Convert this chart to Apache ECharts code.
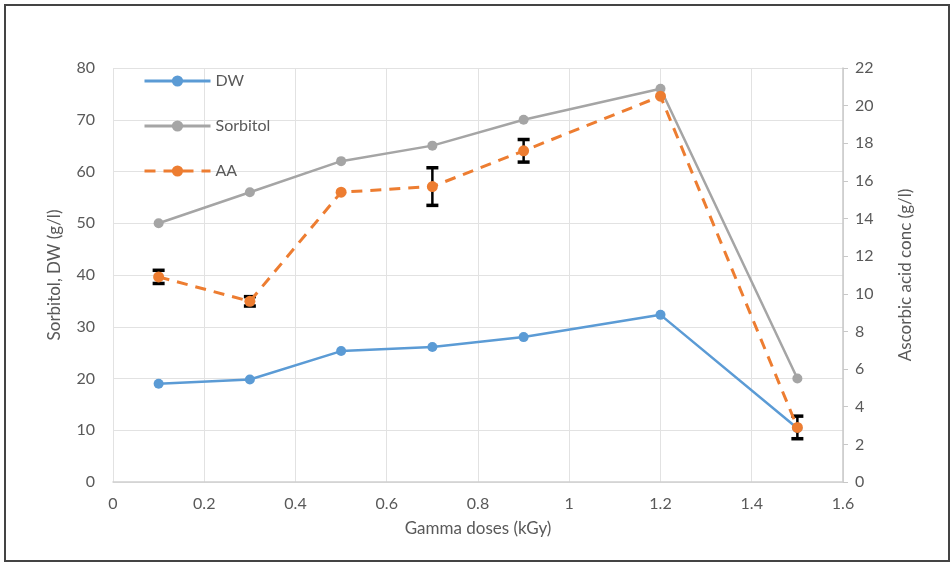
<!DOCTYPE html>
<html><head><meta charset="utf-8">
<script src="https://cdn.jsdelivr.net/npm/echarts@6/dist/echarts.min.js"></script>
<style>html,body{margin:0;padding:0;background:#fff}#c{width:952px;height:564px}</style>
</head><body><div id="c"></div>
<script>
var doses = [0.1, 0.3, 0.5, 0.7, 0.9, 1.2, 1.5];
var dw = [19, 19.8, 25.3, 26.1, 28, 32.3, 10.4];
var sorbitol = [50, 56, 62, 65, 70, 76, 20];
var aa = [10.9, 9.6, 15.4, 15.7, 17.6, 20.5, 2.9];
var aaErr = [0.35, 0.25, 0, 1.0, 0.6, 0, 0.6];
var xTicks = [0, 0.2, 0.4, 0.6, 0.8, 1, 1.2, 1.4, 1.6];

var FONT = 'Lato';
var GRAY = '#595959';
function pairs(ys){ return doses.map(function(d,i){return [d, ys[i]];}); }
var errData = doses.map(function(d,i){return [d, aa[i]-aaErr[i], aa[i]+aaErr[i]];});

var chart = echarts.init(document.getElementById('c'));
chart.setOption({
  backgroundColor: '#fff',
  animation: false,
  textStyle: {fontFamily: FONT},
  graphic: [{type:'rect', shape:{x:5,y:5,width:944,height:556}, style:{fill:'none', stroke:'#444', lineWidth:2}, z:-1}],
  grid: {left:113, right:109, top:68, bottom:82},
  legend: {
    orient:'vertical', left:138, top:68, itemWidth:66, itemHeight:14, itemGap:29,
    data:['DW','Sorbitol','AA'],
    lineStyle:{width:3},
    textStyle:{fontFamily:FONT, fontSize:16, color:GRAY}
  },
  xAxis: {
    type:'value', min:0, max:1.6, interval:0.2,
    name:'Gamma doses (kGy)', nameLocation:'middle', nameGap:38,
    nameTextStyle:{fontFamily:FONT, fontSize:17, color:GRAY},
    axisLine:{show:true, lineStyle:{color:'#d0d0d0', width:1.5}},
    axisTick:{show:false},
    axisLabel:{fontFamily:FONT, fontSize:16, color:GRAY, margin:14, formatter:function(v){return String(+v.toFixed(1));}},
    splitLine:{show:true, lineStyle:{color:'#e2e2e2'}}
  },
  yAxis: [{
    type:'value', min:0, max:80, interval:10,
    name:'Sorbitol, DW (g/l)', nameLocation:'middle', nameGap:50,
    nameTextStyle:{fontFamily:FONT, fontSize:17, color:GRAY},
    axisLine:{show:false}, axisTick:{show:false},
    axisLabel:{fontFamily:FONT, fontSize:16, color:GRAY, margin:18},
    splitLine:{show:true, lineStyle:{color:'#e2e2e2'}}
  },{
    type:'value', min:0, max:22, interval:2, position:'right',
    name:'Ascorbic acid conc (g/l)', nameLocation:'middle', nameGap:54,
    nameTextStyle:{fontFamily:FONT, fontSize:17, color:GRAY},
    axisLine:{show:true, lineStyle:{color:'#c8c8c8', width:1.5}},
    axisTick:{show:true, length:5, inside:false, lineStyle:{color:'#c8c8c8'}},
    axisLabel:{fontFamily:FONT, fontSize:16, color:GRAY, margin:12},
    splitLine:{show:false}
  }],
  series: [
    {name:'DW', type:'line', data:pairs(dw), symbol:'circle', symbolSize:10,
     itemStyle:{color:'#5B9BD5'}, lineStyle:{color:'#5B9BD5', width:2.5}, z:3},
    {name:'Sorbitol', type:'line', data:pairs(sorbitol), symbol:'circle', symbolSize:10,
     itemStyle:{color:'#A5A5A5'}, lineStyle:{color:'#A5A5A5', width:2.5}, z:3},
    {name:'AAerr', type:'custom', yAxisIndex:1, data:errData, z:4,
     encode:{x:0, y:[1,2]},
     renderItem:function(params, api){
       var x = api.value(0), lo = api.value(1), hi = api.value(2);
       if (hi - lo <= 0) return {type:'group', children:[]};
       var p1 = api.coord([x, lo]), p2 = api.coord([x, hi]);
       var w = 6;
       var st = {stroke:'#000', lineWidth:3.5};
       return {type:'group', children:[
         {type:'line', shape:{x1:p1[0], y1:p1[1], x2:p2[0], y2:p2[1]}, style:{stroke:'#000', lineWidth:2.5}},
         {type:'line', shape:{x1:p1[0]-w, y1:p1[1], x2:p1[0]+w, y2:p1[1]}, style:st},
         {type:'line', shape:{x1:p2[0]-w, y1:p2[1], x2:p2[0]+w, y2:p2[1]}, style:st}
       ]};
     }},
    {name:'AA', type:'line', yAxisIndex:1, data:pairs(aa), symbol:'circle', symbolSize:11,
     itemStyle:{color:'#ED7D31'}, lineStyle:{color:'#ED7D31', width:3, type:[11,8]}, z:5}
  ]
});
</script></body></html>
